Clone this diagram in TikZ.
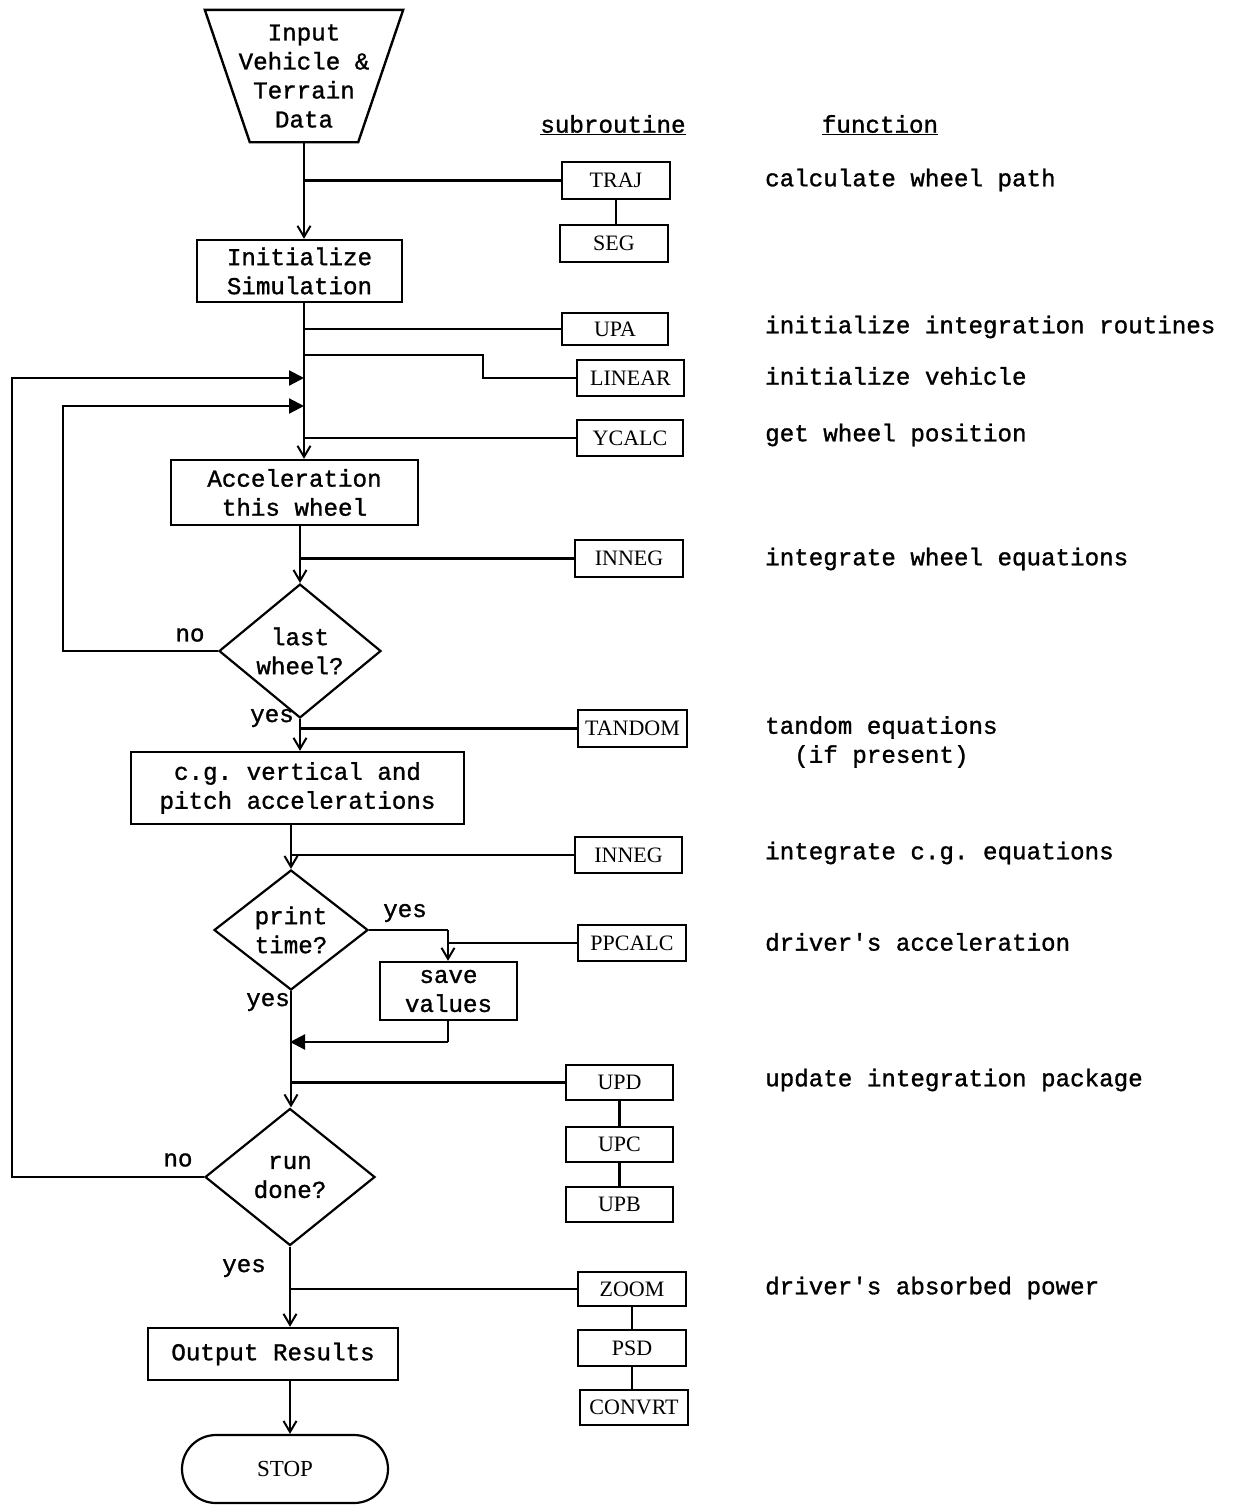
\documentclass[tikz,border=0pt]{standalone}
\usepackage{fontspec}
\setmainfont{Liberation Serif}
\setmonofont[FakeBold=1.2]{Liberation Mono}
\usetikzlibrary{shapes.geometric,shapes.misc,arrows.meta}
\begin{document}
\begin{tikzpicture}[x=1pt,y=-1pt,
  font=\ttfamily\fontsize{24.2}{29}\selectfont,
  ln/.style={line width=2.2pt},
  arr/.style={ln,-{Straight Barb[length=11pt,width=13pt,line width=2pt]}},
  farr/.style={ln,-{Triangle[length=15pt,width=15pt]}},
  box/.style={draw,line width=2.4pt,inner sep=0pt,align=center},
  sub/.style={draw,line width=2.4pt,inner sep=0pt,font=\rmfamily\fontsize{22}{26}\selectfont},
  dia/.style={draw,diamond,line width=2.2pt,inner sep=0pt,align=center},
  fn/.style={anchor=west,inner sep=0pt},
  lab/.style={inner sep=0pt}]
\useasboundingbox (0,0) rectangle (1235,1505);

% main flow
\node[minimum width=198pt,minimum height=132pt,inner sep=0pt,align=center]
  (input) at (304,76) {Input\\Vehicle \&\\Terrain\\Data};
\draw[line width=2.4pt] (input.north west) -- (input.north east)
  -- ([xshift=-45pt]input.south east) -- ([xshift=45pt]input.south west) -- cycle;
\node[box,minimum width=205pt,minimum height=62pt] (init) at (299.5,271) {Initialize\\Simulation};
\node[box,minimum width=247pt,minimum height=65pt] (accel) at (294.5,492.5) {Acceleration\\this wheel};
\node[dia,minimum width=162pt,minimum height=122pt] (lastw) at (300,651) {last\\wheel?};
\node[box,minimum width=333pt,minimum height=72pt] (cg) at (297.5,788) {c.g. vertical and\\pitch accelerations};
\node[dia,minimum width=154pt,minimum height=120pt] (printt) at (291,930) {print\\time?};
\node[box,minimum width=137pt,minimum height=58pt] (save) at (448.5,991) {save\\values};
\node[dia,minimum width=170pt,minimum height=137pt] (rundone) at (290,1177) {run\\done?};
\node[box,minimum width=250pt,minimum height=52pt] (output) at (273,1354) {Output Results};
\node[draw,line width=2.2pt,rounded rectangle,minimum width=206pt,minimum height=68pt,inner sep=0pt,
  font=\rmfamily\fontsize{23}{27}\selectfont] (stop) at (285,1469) {STOP};

% subroutines
\node[sub,minimum width=108pt,minimum height=37pt] (traj) at (616,180.5) {TRAJ};
\node[sub,minimum width=108pt,minimum height=37pt] (seg) at (614,243.5) {SEG};
\node[sub,minimum width=106pt,minimum height=32pt] (upa) at (615,329) {UPA};
\node[sub,minimum width=107pt,minimum height=36pt] (linear) at (630.5,378) {LINEAR};
\node[sub,minimum width=106pt,minimum height=36pt] (ycalc) at (630,438) {YCALC};
\node[sub,minimum width=108pt,minimum height=37pt] (inneg1) at (629,558.5) {INNEG};
\node[sub,minimum width=109pt,minimum height=37pt] (tandom) at (632.5,728.5) {TANDOM};
\node[sub,minimum width=107pt,minimum height=36pt] (inneg2) at (628.5,855) {INNEG};
\node[sub,minimum width=108pt,minimum height=36pt] (ppcalc) at (632,943) {PPCALC};
\node[sub,minimum width=107pt,minimum height=35pt] (upd) at (619.5,1082.5) {UPD};
\node[sub,minimum width=107pt,minimum height=35pt] (upc) at (619.5,1144.5) {UPC};
\node[sub,minimum width=107pt,minimum height=35pt] (upb) at (619.5,1204.5) {UPB};
\node[sub,minimum width=108pt,minimum height=34pt] (zoom) at (632,1289) {ZOOM};
\node[sub,minimum width=108pt,minimum height=36pt] (psd) at (632,1348) {PSD};
\node[sub,minimum width=108pt,minimum height=35pt] (convrt) at (634,1407.5) {CONVRT};

% headers
\node[lab] (hsub) at (613,125) {\underline{subroutine}};
\node[lab] (hfun) at (880,125) {\underline{function}};

% function texts
\node[fn] (f1) at (765,180) {calculate wheel path};
\node[fn] (f2) at (765,327) {initialize integration routines};
\node[fn] (f3) at (765,376) {initialize vehicle};
\node[fn] (f4) at (765,435) {get wheel position};
\node[fn] (f5) at (765,559) {integrate wheel equations};
\node[fn,align=left] (f6) at (765,742) {tandom equations\\\ \ (if present)};
\node[fn] (f7) at (765,853) {integrate c.g. equations};
\node[fn] (f8) at (765,942) {driver's acceleration};
\node[fn] (f9) at (765,1080) {update integration package};
\node[fn] (f10) at (765,1288) {driver's absorbed power};

% labels
\node[lab] (no1) at (190,635) {no};
\node[lab] (yes1) at (272,718) {yes};
\node[lab] (yes2) at (405,913) {yes};
\node[lab] (yes3) at (268,1002) {yes};
\node[lab] (no2) at (178,1160) {no};
\node[lab] (yes4) at (244,1268) {yes};

% coordinates
\coordinate (jlin) at (304,355);
\coordinate (klin) at (483,355);
\coordinate (fb1) at (304,378);
\coordinate (fb2) at (304,406);
\coordinate (pr) at (448,930);
\coordinate (sv) at (448,1042);
\coordinate (ret) at (290,1042);
\coordinate (l1) at (63,651);
\coordinate (l2) at (63,406);
\coordinate (r1) at (12,1177);
\coordinate (r2) at (12,378);

% main connectors
\draw[arr] (input.south) -- (input.south |- init.north);
\draw[arr] (init.south -| input.south) -- (input.south |- accel.north);
\draw[arr] (accel.south -| lastw.north) -- (lastw.north);
\draw[arr] (lastw.south) -- (lastw.south |- cg.north);
\draw[arr] (cg.south -| printt.north) -- (printt.north);
\draw[ln] (printt.south) -- (printt.south |- ret);
\draw[arr] (printt.south |- ret) -- (printt.south |- rundone.north);
\draw[arr] (rundone.south) -- (rundone.south |- output.north);
\draw[arr] (output.south -| rundone.south) -- (stop.north -| rundone.south);
\draw[ln] (printt.east) -- (pr);
\draw[arr] (pr) -- (save.north -| pr);
\draw[ln] (save.south -| sv) -- (sv);
\draw[farr] (sv) -- (ret);

% feedback loops
\draw[farr] (lastw.west) -- (l1) -- (l2) -- (fb2);
\draw[farr] (rundone.west) -- (r1) -- (r2) -- (fb1);

% subroutine branches
\draw[ln] (input.south |- traj.west) -- (traj.west);
\draw[ln] (traj.south) -- (traj.south |- seg.north);
\draw[ln] (input.south |- upa.west) -- (upa.west);
\draw[ln] (jlin) -- (klin) |- (linear.west);
\draw[ln] (input.south |- ycalc.west) -- (ycalc.west);
\draw[ln] (lastw.north |- inneg1.west) -- (inneg1.west);
\draw[ln] (lastw.south |- tandom.west) -- (tandom.west);
\draw[ln] (printt.north |- inneg2.west) -- (inneg2.west);
\draw[ln] (pr |- ppcalc.west) -- (ppcalc.west);
\draw[ln] (ret |- upd.west) -- (upd.west);
\draw[ln] (upd.south) -- (upc.north);
\draw[ln] (upc.south) -- (upb.north);
\draw[ln] (rundone.south |- zoom.west) -- (zoom.west);
\draw[ln] (zoom.south) -- (psd.north);
\draw[ln] (psd.south) -- (psd.south |- convrt.north);
\end{tikzpicture}
\end{document}
